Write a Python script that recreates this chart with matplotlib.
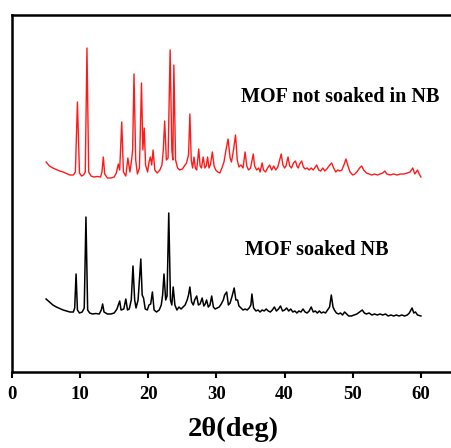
#!/usr/bin/env python3
"""PXRD patterns of the MOF before and after soaking in nitrobenzene."""

import matplotlib

matplotlib.use("Agg")
import matplotlib.pyplot as plt
import numpy as np

plt.rcParams["font.family"] = ["Liberation Serif", "DejaVu Serif"]
plt.rcParams["font.weight"] = "bold"

not_soaked = [
    (5.0, 73), (5.5, 69), (6.0, 67), (6.5, 65.5), (7.0, 64), (7.5, 63), (8.0, 61.5),
    (8.5, 60), (9.0, 60), (9.3, 63), (9.6, 133), (9.9, 62), (10.2, 59), (10.5, 60),
    (10.75, 63), (11.0, 187), (11.25, 63), (11.6, 59), (12.0, 58), (12.5, 58.5),
    (13.0, 58), (13.2, 63), (13.4, 78), (13.6, 61), (14.0, 57), (14.5, 57), (15.0, 58),
    (15.3, 62), (15.6, 71), (15.8, 65), (16.1, 113), (16.35, 63), (16.7, 59), (17.0, 77),
    (17.3, 63), (17.55, 75), (17.7, 85), (17.9, 161), (18.15, 75), (18.4, 61), (18.7, 67),
    (19.0, 152), (19.2, 85), (19.4, 107), (19.6, 70), (19.9, 63), (20.1, 73), (20.3, 78),
    (20.5, 70), (20.7, 85), (20.95, 65), (21.3, 62), (21.7, 65), (22.0, 70), (22.2, 85),
    (22.4, 114), (22.65, 75), (22.9, 77), (23.2, 185), (23.45, 85), (23.6, 75), (23.75, 170),
    (24.0, 75), (24.3, 67), (24.6, 65), (25.0, 66), (25.3, 69), (25.6, 72), (25.9, 80),
    (26.1, 121), (26.3, 75), (26.5, 67), (26.7, 78), (26.9, 67), (27.1, 65), (27.4, 86),
    (27.6, 69), (27.8, 67), (28.05, 78), (28.3, 67), (28.5, 69), (28.7, 78), (28.9, 67),
    (29.1, 70), (29.4, 83), (29.65, 69), (29.9, 65), (30.2, 63), (30.5, 62), (30.8, 67),
    (31.1, 73), (31.4, 85), (31.7, 96), (32.0, 77), (32.2, 73), (32.5, 85), (32.8, 100),
    (33.05, 75), (33.3, 68), (33.6, 70), (33.9, 67), (34.2, 83), (34.45, 69), (34.7, 65),
    (35.0, 67), (35.4, 81), (35.6, 69), (35.9, 65), (36.2, 67), (36.4, 63), (36.7, 72),
    (36.9, 65), (37.2, 63), (37.5, 67), (37.8, 70), (38.1, 65), (38.4, 69), (38.7, 65),
    (39.0, 68), (39.2, 73), (39.5, 81), (39.75, 70), (40.0, 67), (40.2, 69), (40.5, 78),
    (40.75, 69), (41.0, 67), (41.3, 72), (41.6, 74), (41.8, 69), (42.0, 67), (42.2, 71),
    (42.5, 74), (42.75, 68), (43.0, 66), (43.3, 67), (43.6, 65), (43.9, 67), (44.2, 65),
    (44.5, 68), (44.7, 70), (45.0, 65), (45.3, 64), (45.6, 67), (45.9, 64), (46.2, 66),
    (46.5, 69), (46.9, 72), (47.2, 67), (47.5, 63), (47.8, 65), (48.1, 64), (48.4, 65),
    (48.7, 70), (49.0, 76), (49.3, 69), (49.6, 63), (50.0, 60), (50.3, 61), (50.6, 63),
    (51.0, 67), (51.3, 69), (51.6, 65), (52.0, 62), (52.4, 61), (52.8, 60), (53.2, 61),
    (53.6, 60), (54.0, 61), (54.4, 62), (54.7, 64), (55.0, 61), (55.5, 60), (56.0, 61),
    (56.5, 60), (57.0, 61), (57.5, 61), (58.0, 62), (58.4, 63), (58.8, 67), (59.1, 61),
    (59.3, 63), (59.5, 65), (59.75, 61), (60.0, 58),
]

soaked = [
    (5.0, 73), (5.5, 70), (6.0, 67), (6.5, 65), (7.0, 63.5), (7.5, 62), (8.0, 61),
    (8.5, 60), (9.0, 60), (9.2, 64), (9.4, 98), (9.6, 62), (9.9, 59), (10.3, 60),
    (10.6, 64), (10.85, 155), (11.1, 62), (11.4, 59), (11.8, 58), (12.3, 58.5), (12.8, 58),
    (13.1, 62), (13.3, 68), (13.5, 60), (14.0, 58), (14.5, 58), (15.0, 59), (15.4, 63),
    (15.8, 71), (16.0, 62), (16.4, 63), (16.7, 73), (16.95, 62), (17.2, 63), (17.5, 72),
    (17.75, 106), (18.0, 72), (18.2, 64), (18.5, 72), (18.9, 113), (19.1, 77), (19.3, 74),
    (19.55, 63), (19.85, 62), (20.1, 67), (20.35, 68), (20.6, 80), (20.85, 62), (21.2, 60),
    (21.6, 62), (21.9, 67), (22.1, 77), (22.3, 98), (22.55, 72), (22.75, 76), (23.0, 159),
    (23.25, 72), (23.45, 67), (23.65, 85), (23.9, 67), (24.2, 62), (24.5, 65), (24.8, 63),
    (25.1, 65), (25.4, 67), (25.7, 72), (25.9, 77), (26.1, 85), (26.35, 70), (26.6, 67),
    (26.8, 72), (27.1, 76), (27.35, 67), (27.6, 68), (27.9, 74), (28.15, 66), (28.35, 68),
    (28.55, 72), (28.8, 65), (29.05, 67), (29.3, 76), (29.55, 65), (29.8, 63), (30.1, 64),
    (30.4, 65), (30.7, 68), (31.0, 72), (31.2, 77), (31.5, 80), (31.75, 67), (32.0, 69),
    (32.3, 76), (32.6, 84), (32.85, 72), (33.1, 72), (33.3, 66), (33.6, 64), (33.9, 62),
    (34.2, 63), (34.5, 62), (34.8, 64), (35.05, 67), (35.2, 78), (35.45, 64), (35.8, 61),
    (36.1, 62), (36.4, 60), (36.7, 62), (37.0, 61), (37.3, 63), (37.6, 61), (37.9, 60),
    (38.2, 62), (38.5, 65), (38.8, 61), (39.1, 63), (39.4, 66), (39.7, 61), (40.0, 62),
    (40.3, 64), (40.6, 61), (40.9, 63), (41.2, 60), (41.5, 61), (41.8, 59), (42.1, 61),
    (42.4, 60), (42.7, 63), (43.0, 60), (43.3, 59), (43.6, 61), (43.9, 65), (44.2, 60),
    (44.5, 61), (44.8, 59), (45.1, 61), (45.4, 59), (45.7, 60), (46.0, 59), (46.3, 62),
    (46.6, 65), (46.85, 77), (47.1, 65), (47.3, 62), (47.6, 59), (47.9, 58), (48.2, 59),
    (48.5, 57), (48.8, 60), (49.1, 58), (49.4, 56), (49.8, 56), (50.2, 57), (50.6, 58),
    (51.0, 60), (51.4, 62), (51.7, 59), (52.0, 58), (52.4, 59), (52.8, 57), (53.2, 58),
    (53.6, 57), (54.0, 58), (54.4, 57), (54.8, 58), (55.2, 56), (55.6, 57), (56.0, 56),
    (56.4, 57), (56.8, 56), (57.2, 57), (57.6, 56), (58.0, 57), (58.3, 59), (58.7, 64),
    (58.95, 59), (59.2, 60), (59.5, 57), (60.0, 56),
]

x_ticks = [0, 10, 20, 30, 40, 50, 60]
labels = ["MOF not soaked in NB", "MOF soaked NB"]
red_offset = 137

W, H = 451, 448
fig = plt.figure(figsize=(W / 100, H / 100), dpi=100)
ax = fig.add_axes([12 / W, 76 / H, 443 / W, 357 / H])

tt, ii = np.array(not_soaked).T
ax.plot(tt, ii + red_offset, color="#ff1a1a", lw=1.0)
tt, ii = np.array(soaked).T
ax.plot(tt, ii, color="black", lw=1.1)

ax.text(33.6, 275, labels[0], fontsize=14.5, fontweight="bold", va="center", ha="left")
ax.text(34.2, 122, labels[1], fontsize=14.5, fontweight="bold", va="center", ha="left")

ax.set_xlim(0, 65)
ax.set_ylim(0, 357)
ax.set_xticks(x_ticks, labels=[str(t) for t in x_ticks])
ax.set_yticks([])
for side in ax.spines.values():
    side.set_linewidth(1.8)
ax.tick_params(axis="x", direction="out", length=4, width=1.5, pad=6, labelsize=13.5)
for lab in ax.get_xticklabels():
    lab.set_fontweight("bold")
ax.set_xlabel("2θ(deg)", fontsize=20.5, fontweight="bold", labelpad=10)

fig.savefig("out.png", dpi=100)
